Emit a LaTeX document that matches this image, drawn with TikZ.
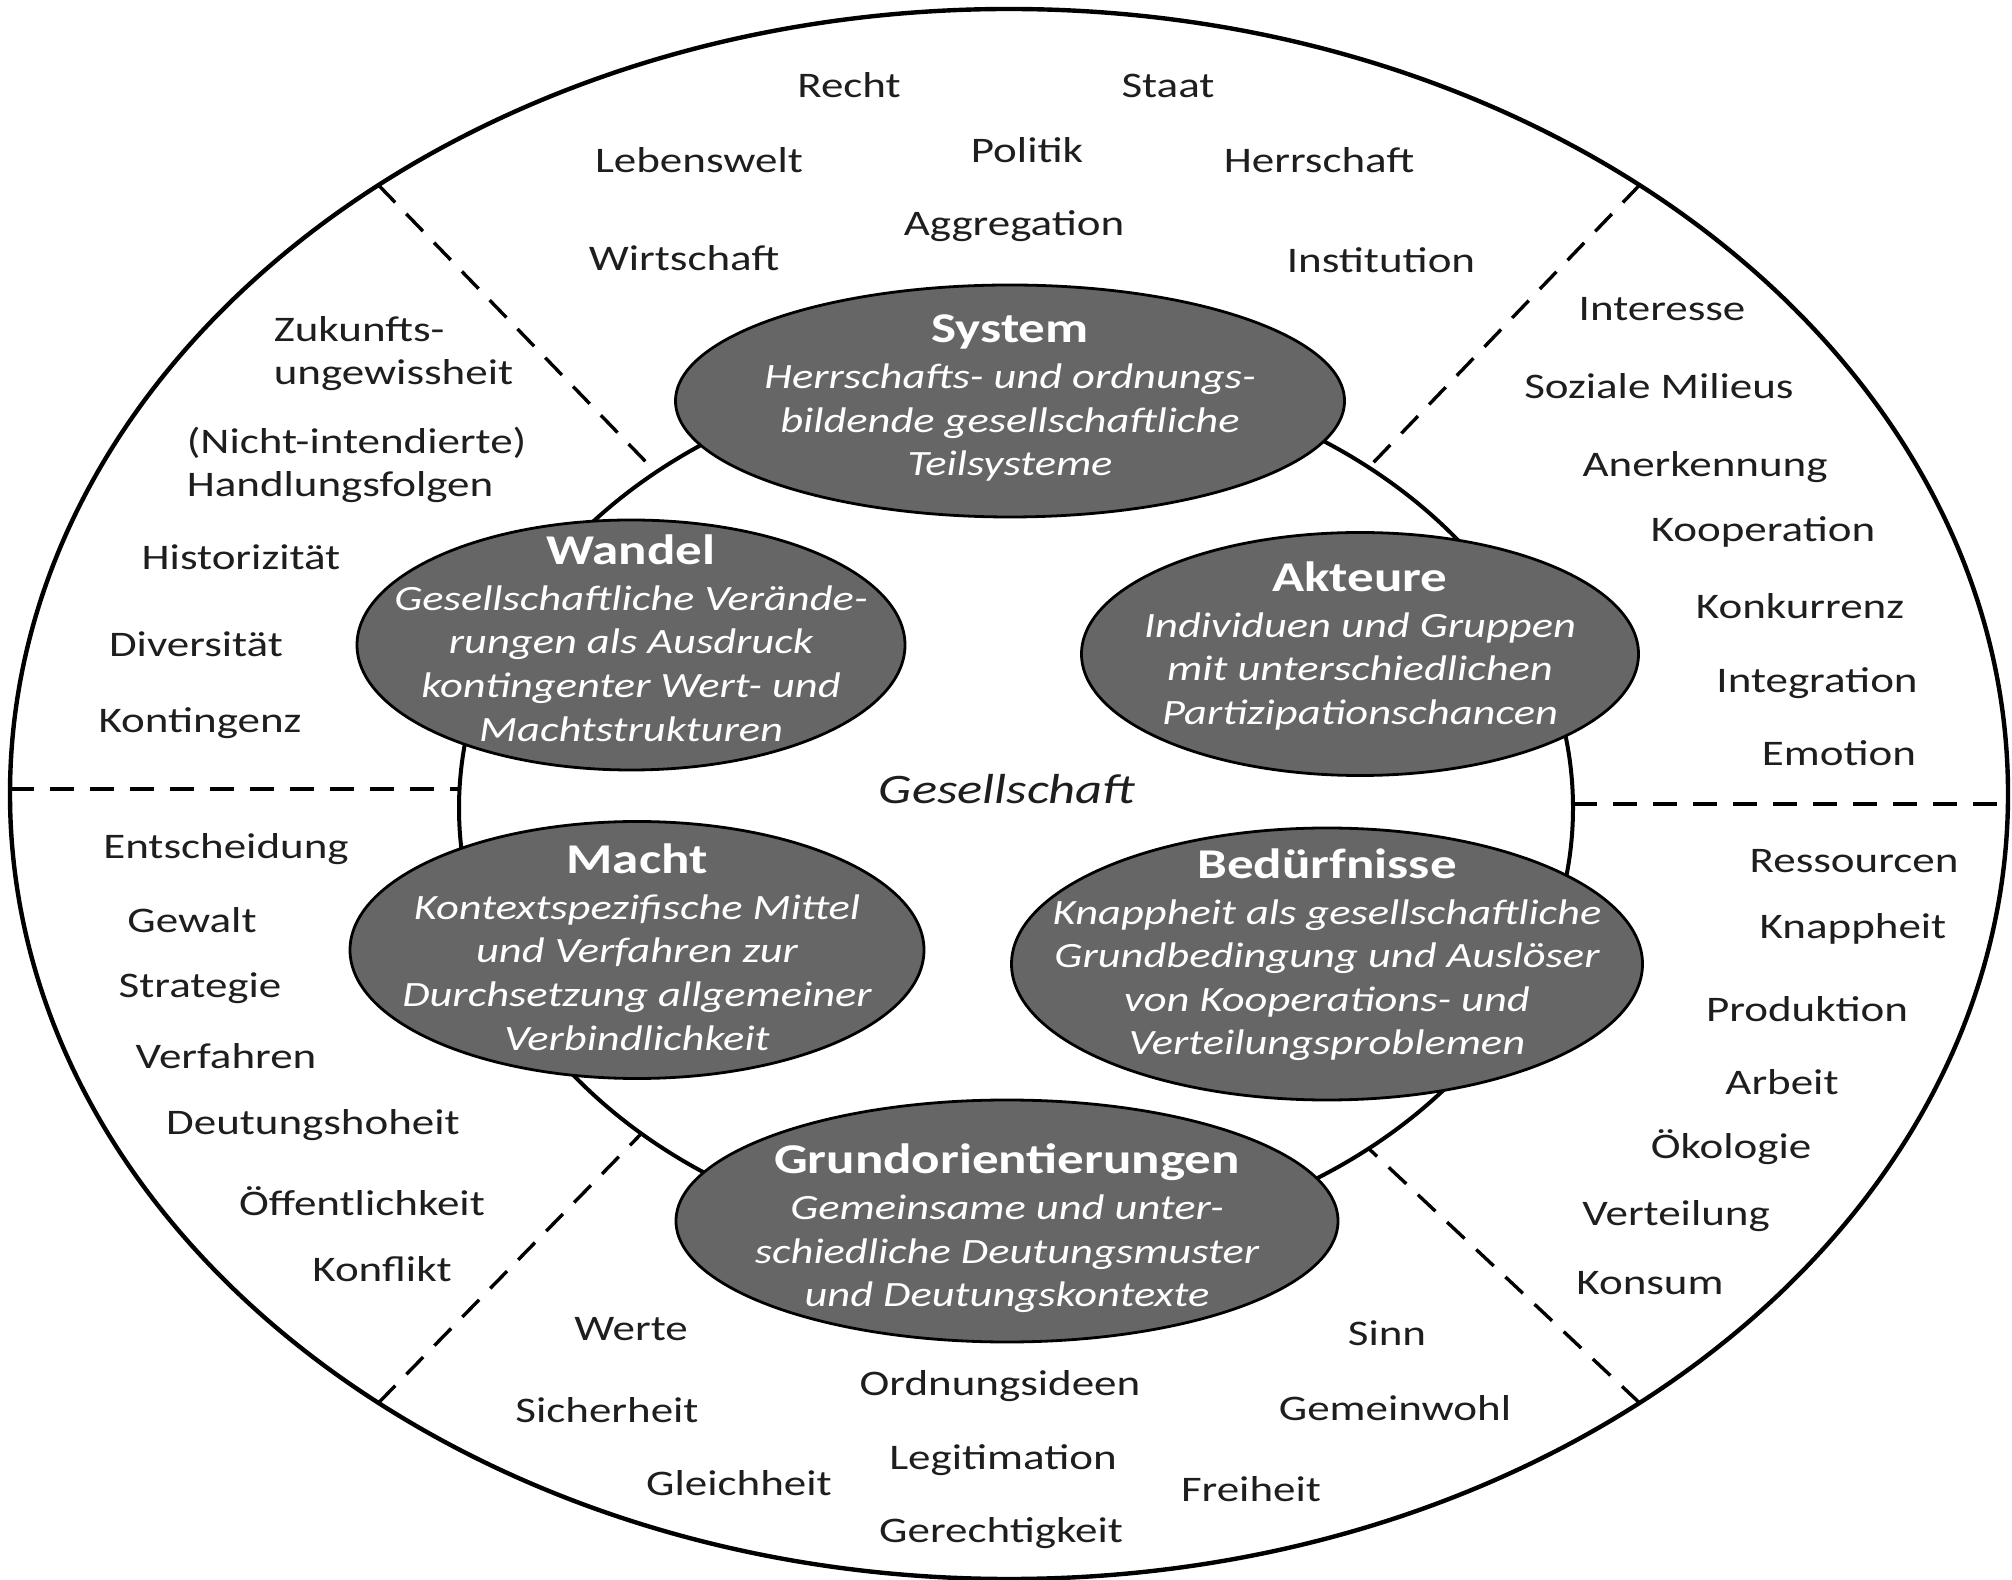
\documentclass[tikz,border=0pt]{standalone}
\usepackage{fontspec}
\setmainfont{Carlito}[FakeStretch=1.25]
\usetikzlibrary{shapes.geometric}
\definecolor{ellfill}{RGB}{102,102,102}
\definecolor{labelcol}{RGB}{30,30,30}
% #1 downward shift, #2 title, #3 body lines
\newcommand{\elltext}[3]{\makebox[0pt]{\raisebox{-#1}[0pt][0pt]{\fontsize{8.9}{10.9}\selectfont\itshape
  \begin{tabular}{@{}c@{}}{\fontsize{10.6}{10.9}\selectfont\upshape\bfseries #2}\\[0.6pt]#3\end{tabular}}}}
\tikzset{
  ell/.style={ellipse, draw=black, line width=0.7pt, fill=ellfill, text=white, inner sep=0pt, outer sep=0pt},
  lbl/.style={font=\fontsize{9}{10.8}\selectfont, text=labelcol, inner sep=0pt},
  ring/.style={ellipse, draw=black, line width=1.1pt, inner sep=0pt, outer sep=0pt},
  sepline/.style={draw=black, line width=0.85pt, dash pattern=on 6pt off 4pt},
}
\begin{document}
\begin{tikzpicture}[x=0.25pt,y=-0.25pt]
\useasboundingbox[fill=white] (0,0) rectangle (2012,1580);
% rings
\node[ring, minimum width=499.5pt, minimum height=392.5pt] (outer) at (1009,794) {};
\node[ring, line width=1pt, minimum width=278.5pt, minimum height=220pt] (inner) at (1016,808) {};
% separators
\draw[sepline] (outer.136.5) -- (inner.137.2);
\draw[sepline] (outer.44.3) -- (inner.44.3);
\draw[sepline] (outer.224.5) -- (inner.221.1);
\draw[sepline] (outer.316.3) -- (inner.316.8);
\draw[sepline] ([yshift=1.25pt]outer.west) -- ([yshift=1.25pt]outer.west -| inner.west);
\draw[sepline] ([yshift=1pt]inner.east) -- ([yshift=1pt]inner.east -| outer.east);
% ellipses
\node[ell, minimum width=167.25pt, minimum height=58pt] (sys) at (1010,401)
  {\elltext{2.1pt}{System}{Herrschafts- und ordnungs-\\bildende gesellschaftliche\\Teilsysteme}};
\node[ell, minimum width=137pt, minimum height=62.5pt] (wan) at (631,645)
  {\elltext{2pt}{Wandel}{Gesellschaftliche Verände-\\rungen als Ausdruck\\kontingenter Wert- und\\Machtstrukturen}};
\node[ell, minimum width=139.25pt, minimum height=60.75pt] (akt) at (1360,654)
  {\elltext{1pt}{Akteure}{Individuen und Gruppen\\mit unterschiedlichen\\Partizipationschancen}};
\node[ell, minimum width=143.5pt, minimum height=64.25pt] (mac) at (637,950)
  {\elltext{3pt}{Macht}{Kontextspezifische Mittel\\und Verfahren zur\\Durchsetzung allgemeiner\\Verbindlichkeit}};
\node[ell, minimum width=157.75pt, minimum height=68pt] (bed) at (1327,964)
  {\elltext{0.7pt}{Bedürfnisse}{Knappheit als gesellschaftliche\\Grundbedingung und Auslöser\\von Kooperations- und\\Verteilungsproblemen}};
\node[ell, minimum width=165.5pt, minimum height=60.5pt] (gru) at (1007,1221)
  {\elltext{4.9pt}{Grundorientierungen}{Gemeinsame und unter-\\schiedliche Deutungsmuster\\und Deutungskontexte}};
% centre
\node[lbl, font=\fontsize{10.5}{12}\selectfont\itshape] (ges) at (1007,789) {Gesellschaft};
% top
\node[lbl] (recht) at (849,85) {Recht};
\node[lbl] (staat) at (1168,86) {Staat};
\node[lbl] (lebenswelt) at (699,160) {Lebenswelt};
\node[lbl] (politik) at (1027,150) {Politik};
\node[lbl] (herrschaft) at (1319,160) {Herrschaft};
\node[lbl] (aggregation) at (1014,226) {Aggregation};
\node[lbl] (wirtschaft) at (684,258) {Wirtschaft};
\node[lbl] (institution) at (1381,260) {Institution};
% upper left
\node[lbl, anchor=west, align=left] (zukunft) at (273,354) {Zukunfts-\\ungewissheit};
\node[lbl, anchor=west, align=left] (handlung) at (186,465) {(Nicht-intendierte)\\Handlungsfolgen};
\node[lbl] (historizitaet) at (241,557) {Historizität};
\node[lbl] (diversitaet) at (196,644) {Diversität};
\node[lbl] (kontingenz) at (200,723) {Kontingenz};
% upper right
\node[lbl] (interesse) at (1662,309) {Interesse};
\node[lbl] (milieus) at (1659,386) {Soziale Milieus};
\node[lbl] (anerkennung) at (1705,467) {Anerkennung};
\node[lbl] (kooperation) at (1763,532) {Kooperation};
\node[lbl] (konkurrenz) at (1800,606) {Konkurrenz};
\node[lbl] (integration) at (1817,683) {Integration};
\node[lbl] (emotion) at (1839,753) {Emotion};
% lower left
\node[lbl] (entscheidung) at (226,849) {Entscheidung};
\node[lbl] (gewalt) at (192,920) {Gewalt};
\node[lbl] (strategie) at (200,988) {Strategie};
\node[lbl] (verfahren) at (226,1056) {Verfahren};
\node[lbl] (deutungshoheit) at (313,1125) {Deutungshoheit};
\node[lbl] (oeffentlichkeit) at (362,1201) {Öffentlichkeit};
\node[lbl] (konflikt) at (382,1269) {Konflikt};
% lower right
\node[lbl] (ressourcen) at (1854,861) {Ressourcen};
\node[lbl] (knappheit) at (1853,929) {Knappheit};
\node[lbl] (produktion) at (1807,1009) {Produktion};
\node[lbl] (arbeit) at (1782,1082) {Arbeit};
\node[lbl] (oekologie) at (1731,1147) {Ökologie};
\node[lbl] (verteilung) at (1676,1216) {Verteilung};
\node[lbl] (konsum) at (1650,1283) {Konsum};
% bottom
\node[lbl] (werte) at (631,1329) {Werte};
\node[lbl] (sicherheit) at (607,1410) {Sicherheit};
\node[lbl] (gleichheit) at (739,1483) {Gleichheit};
\node[lbl] (ordnungsideen) at (1000,1386) {Ordnungsideen};
\node[lbl] (legitimation) at (1003,1460) {Legitimation};
\node[lbl] (gerechtigkeit) at (1001,1533) {Gerechtigkeit};
\node[lbl] (sinn) at (1387,1333) {Sinn};
\node[lbl] (gemeinwohl) at (1395,1408) {Gemeinwohl};
\node[lbl] (freiheit) at (1251,1489) {Freiheit};
\end{tikzpicture}
\end{document}
